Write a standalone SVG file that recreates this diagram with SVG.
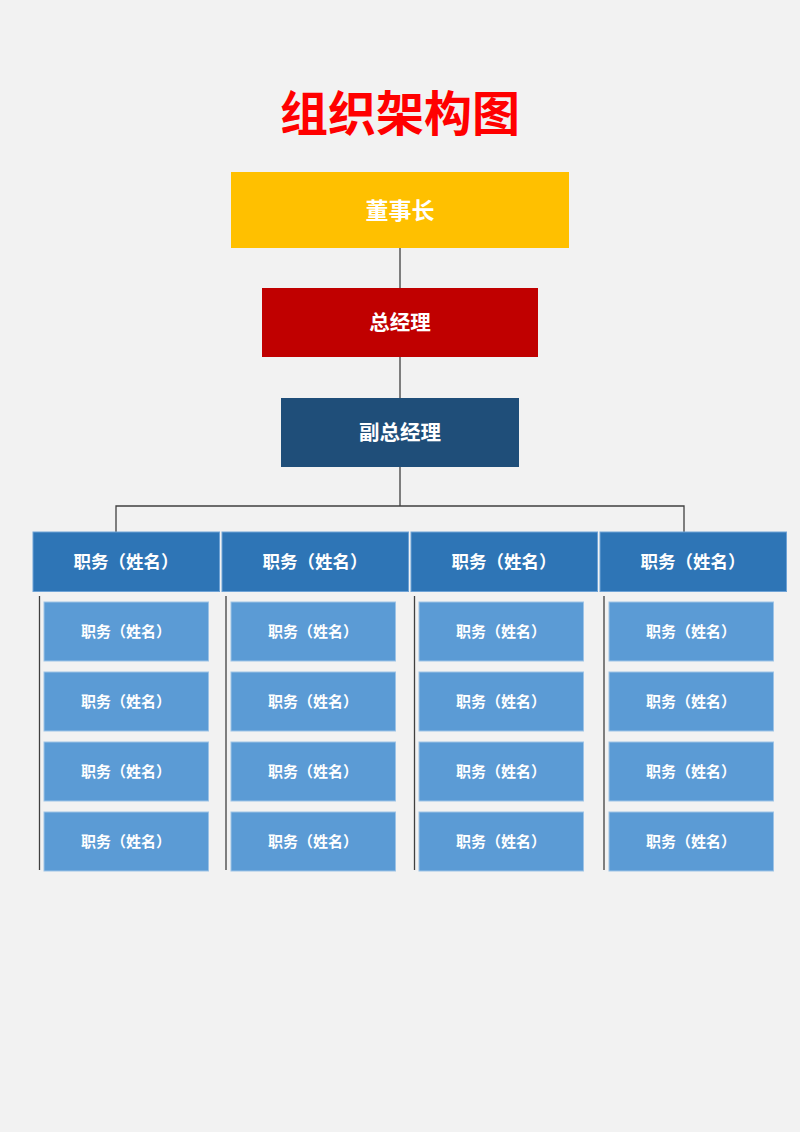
<svg xmlns="http://www.w3.org/2000/svg" width="800" height="1132" viewBox="0 0 800 1132">
<style>
text{font-family:"Noto Sans CJK SC","Noto Sans",sans-serif;fill:#fff;text-anchor:middle;font-weight:bold}
.title{fill:#FF0000;font-size:48px}
.h{fill:#2E75B6;stroke:#6FA3D6;stroke-width:1}
.s{fill:#5B9BD5;stroke:#9DC3E6;stroke-width:1}
.ht{font-size:17.5px}
.st{font-size:15px}
.ln{stroke:#404040;stroke-width:1.3;fill:none}
</style>
<rect width="800" height="1132" fill="#F2F2F2"/>
<text class="title" x="400" y="131">组织架构图</text>
<g id="connectors">
<path class="ln" d="M400 248V288M400 357V398M400 467V506M116 532V506H684V532"/>
<path class="ln" d="M39.5 596V870M226 596V870M414.5 596V870M604 596V870"/>
</g>
<g id="chairman"><rect x="231" y="172" width="338" height="76" fill="#FFC000"/><text x="400" y="218.5" font-size="23">董事长</text></g>
<g id="gm"><rect x="262" y="288" width="276" height="69" fill="#C00000"/><text x="400" y="330" font-size="20.5">总经理</text></g>
<g id="dgm"><rect x="281" y="398" width="238" height="69" fill="#1F4E79"/><text x="400" y="440" font-size="20.5">副总经理</text></g>
<g id="h1"><rect class="h" x="33" y="532" width="186.5" height="59.5"/><text class="ht" x="126" y="568">职务（姓名）</text></g>
<g id="h2"><rect class="h" x="222" y="532" width="186.5" height="59.5"/><text class="ht" x="315" y="568">职务（姓名）</text></g>
<g id="h3"><rect class="h" x="411" y="532" width="186.5" height="59.5"/><text class="ht" x="504" y="568">职务（姓名）</text></g>
<g id="h4"><rect class="h" x="600" y="532" width="186.5" height="59.5"/><text class="ht" x="693" y="568">职务（姓名）</text></g>
<g id="c1r1"><rect class="s" x="44" y="602" width="164.5" height="59"/><text class="st" x="126" y="637">职务（姓名）</text></g>
<g id="c1r2"><rect class="s" x="44" y="672" width="164.5" height="59"/><text class="st" x="126" y="707">职务（姓名）</text></g>
<g id="c1r3"><rect class="s" x="44" y="742" width="164.5" height="59"/><text class="st" x="126" y="777">职务（姓名）</text></g>
<g id="c1r4"><rect class="s" x="44" y="812" width="164.5" height="59"/><text class="st" x="126" y="847">职务（姓名）</text></g>
<g id="c2r1"><rect class="s" x="231" y="602" width="164.5" height="59"/><text class="st" x="313" y="637">职务（姓名）</text></g>
<g id="c2r2"><rect class="s" x="231" y="672" width="164.5" height="59"/><text class="st" x="313" y="707">职务（姓名）</text></g>
<g id="c2r3"><rect class="s" x="231" y="742" width="164.5" height="59"/><text class="st" x="313" y="777">职务（姓名）</text></g>
<g id="c2r4"><rect class="s" x="231" y="812" width="164.5" height="59"/><text class="st" x="313" y="847">职务（姓名）</text></g>
<g id="c3r1"><rect class="s" x="419" y="602" width="164.5" height="59"/><text class="st" x="501" y="637">职务（姓名）</text></g>
<g id="c3r2"><rect class="s" x="419" y="672" width="164.5" height="59"/><text class="st" x="501" y="707">职务（姓名）</text></g>
<g id="c3r3"><rect class="s" x="419" y="742" width="164.5" height="59"/><text class="st" x="501" y="777">职务（姓名）</text></g>
<g id="c3r4"><rect class="s" x="419" y="812" width="164.5" height="59"/><text class="st" x="501" y="847">职务（姓名）</text></g>
<g id="c4r1"><rect class="s" x="609" y="602" width="164.5" height="59"/><text class="st" x="691" y="637">职务（姓名）</text></g>
<g id="c4r2"><rect class="s" x="609" y="672" width="164.5" height="59"/><text class="st" x="691" y="707">职务（姓名）</text></g>
<g id="c4r3"><rect class="s" x="609" y="742" width="164.5" height="59"/><text class="st" x="691" y="777">职务（姓名）</text></g>
<g id="c4r4"><rect class="s" x="609" y="812" width="164.5" height="59"/><text class="st" x="691" y="847">职务（姓名）</text></g>
</svg>
